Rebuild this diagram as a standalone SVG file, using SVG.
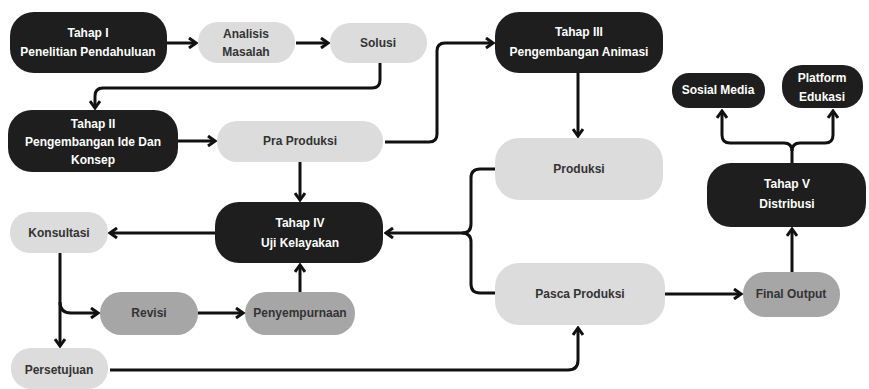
<svg xmlns="http://www.w3.org/2000/svg" width="869" height="389" viewBox="0 0 869 389">
<style>
.dark{fill:#1e1e1e}
.light{fill:#dcdcdc}
.mid{fill:#a6a6a6}
text{font-family:"Liberation Sans",Arial,sans-serif;font-weight:bold;font-size:12px;text-anchor:middle;dominant-baseline:central}
.w{fill:#ffffff}
.k{fill:#333333}
#connectors path{fill:none;stroke:#111111;stroke-width:3}
.arr{marker-end:url(#ah)}
</style>
<defs>
<marker id="ah" viewBox="0 0 12 12" refX="10" refY="6" markerWidth="12" markerHeight="12" markerUnits="userSpaceOnUse" orient="auto">
<path d="M3,1 L10,6 L3,11" fill="none" stroke="#111111" stroke-width="3" stroke-linejoin="miter"/>
</marker>
</defs>
<rect width="869" height="389" fill="#ffffff"/>
<g id="connectors">
<path class="arr" d="M167,43 H196"/>
<path class="arr" d="M296,43 H328"/>
<path class="arr" d="M380,63 V80 Q380,88 372,88 H103 Q95,88 95,96 V108"/>
<path class="arr" d="M178,141 H215"/>
<path class="arr" d="M385,142 H429 Q437,142 437,134 V51 Q437,43 445,43 H493"/>
<path class="arr" d="M578,73 V136"/>
<path class="arr" d="M300,162 V200"/>
<path class="arr" d="M495,169 H480 Q471,169 471,178 V224 Q471,233 462,233 H386"/>
<path d="M495,293 H480 Q471,293 471,284 V242 Q471,233 462,233"/>
<path class="arr" d="M215,233 H110"/>
<path class="arr" d="M60,253 V346"/>
<path class="arr" d="M60,302 Q60,313 71,313 H98"/>
<path class="arr" d="M198,313 H243"/>
<path class="arr" d="M300,292 V265"/>
<path class="arr" d="M110,370 H568 Q578,370 578,360 V328"/>
<path class="arr" d="M665,294 H741"/>
<path class="arr" d="M792,272 V229"/>
<path class="arr" d="M792,163 V151 Q792,143 784,143 H730 Q722,143 722,135 V111"/>
<path class="arr" d="M792,151 Q792,143 800,143 H825 Q833,143 833,135 V111"/>
</g>
<g id="tahap1"><rect class="dark" x="10" y="12" width="157" height="61" rx="24"/><text class="w" x="88" y="33">Tahap I</text><text class="w" x="88" y="52">Penelitian Pendahuluan</text></g>
<g id="analisis"><rect class="light" x="198" y="22" width="97" height="41" rx="20"/><text class="k" x="246" y="34">Analisis</text><text class="k" x="246" y="52">Masalah</text></g>
<g id="solusi"><rect class="light" x="330" y="23" width="97" height="40" rx="20"/><text class="k" x="378" y="43">Solusi</text></g>
<g id="tahap2"><rect class="dark" x="8" y="110" width="170" height="62" rx="24"/><text class="w" x="93" y="124">Tahap II</text><text class="w" x="93" y="142">Pengembangan Ide Dan</text><text class="w" x="93" y="160">Konsep</text></g>
<g id="praproduksi"><rect class="light" x="217" y="121" width="166" height="41" rx="20"/><text class="k" x="300" y="141">Pra Produksi</text></g>
<g id="tahap3"><rect class="dark" x="495" y="12" width="168" height="61" rx="24"/><text class="w" x="579" y="32">Tahap III</text><text class="w" x="579" y="52">Pengembangan Animasi</text></g>
<g id="produksi"><rect class="light" x="495" y="138" width="168" height="62" rx="24"/><text class="k" x="579" y="169">Produksi</text></g>
<g id="tahap4"><rect class="dark" x="215" y="202" width="168" height="61" rx="24"/><text class="w" x="300" y="223">Tahap IV</text><text class="w" x="300" y="243">Uji Kelayakan</text></g>
<g id="konsultasi"><rect class="light" x="10" y="212" width="98" height="41" rx="20"/><text class="k" x="59" y="233">Konsultasi</text></g>
<g id="revisi"><rect class="mid" x="100" y="292" width="98" height="43" rx="21"/><text class="k" x="149" y="313">Revisi</text></g>
<g id="penyempurnaan"><rect class="mid" x="245" y="292" width="110" height="43" rx="21"/><text class="k" x="300" y="313">Penyempurnaan</text></g>
<g id="persetujuan"><rect class="light" x="11" y="348" width="97" height="41" rx="20"/><text class="k" x="59" y="370">Persetujuan</text></g>
<g id="pascaproduksi"><rect class="light" x="495" y="263" width="170" height="62" rx="24"/><text class="k" x="580" y="294">Pasca Produksi</text></g>
<g id="finaloutput"><rect class="mid" x="743" y="272" width="97" height="45" rx="22"/><text class="k" x="791" y="294">Final Output</text></g>
<g id="tahap5"><rect class="dark" x="707" y="163" width="159" height="64" rx="24"/><text class="w" x="787" y="184">Tahap V</text><text class="w" x="787" y="204">Distribusi</text></g>
<g id="sosialmedia"><rect class="dark" x="672" y="73" width="93" height="35" rx="17"/><text class="w" x="718" y="90">Sosial Media</text></g>
<g id="platform"><rect class="dark" x="782" y="65" width="81" height="43" rx="20"/><text class="w" x="822" y="78">Platform</text><text class="w" x="822" y="97">Edukasi</text></g>
</svg>
